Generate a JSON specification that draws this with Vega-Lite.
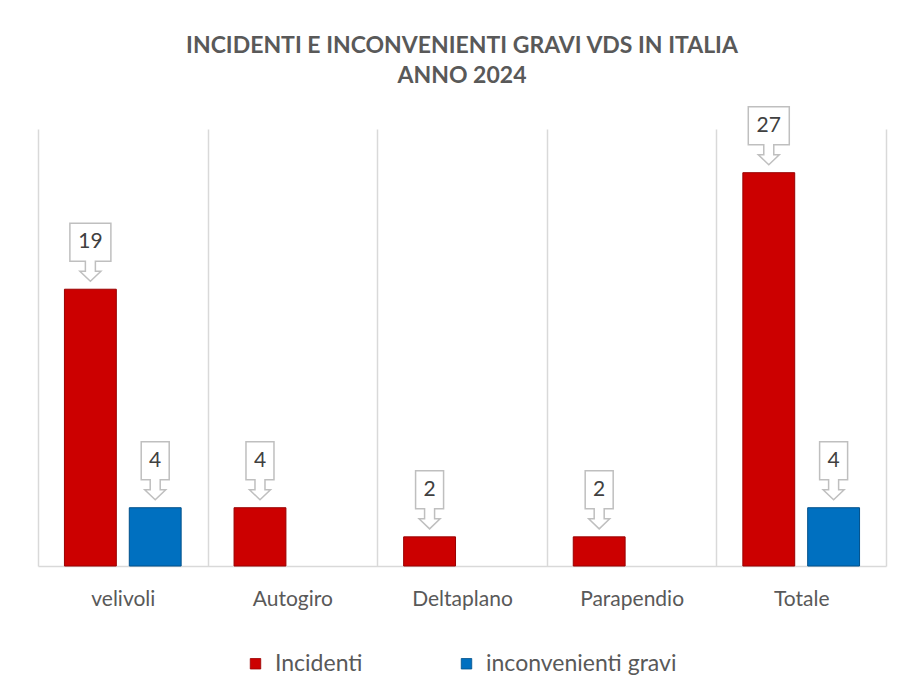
{
  "$schema": "https://vega.github.io/schema/vega-lite/v6.json",
  "width": 848,
  "height": 437,
  "padding": {"left": 38, "top": 34, "right": 18, "bottom": 10},
  "background": "white",
  "title": {
    "text": ["INCIDENTI E INCONVENIENTI GRAVI VDS IN ITALIA", "ANNO 2024"],
    "font": "Lato",
    "fontSize": 23,
    "fontWeight": "bold",
    "color": "#595959",
    "lineHeight": 30,
    "offset": 16,
    "anchor": "middle"
  },
  "config": {"view": {"stroke": null}},
  "data": {
    "values": [
      {"categoria": "velivoli", "serie": "Incidenti", "valore": 19},
      {"categoria": "velivoli", "serie": "inconvenienti gravi", "valore": 4},
      {"categoria": "Autogiro", "serie": "Incidenti", "valore": 4},
      {"categoria": "Deltaplano", "serie": "Incidenti", "valore": 2},
      {"categoria": "Parapendio", "serie": "Incidenti", "valore": 2},
      {"categoria": "Totale", "serie": "Incidenti", "valore": 27},
      {"categoria": "Totale", "serie": "inconvenienti gravi", "valore": 4}
    ]
  },
  "encoding": {
    "x": {
      "field": "categoria",
      "type": "nominal",
      "sort": ["velivoli", "Autogiro", "Deltaplano", "Parapendio", "Totale"],
      "scale": {"paddingInner": 0, "paddingOuter": 0},
      "axis": {
        "title": null,
        "labelAngle": 0,
        "labelFont": "Lato",
        "labelFontSize": 21,
        "labelColor": "#595959",
        "labelPadding": 22,
        "ticks": false,
        "domainColor": "#d9d9d9",
        "domainWidth": 1.5,
        "grid": true,
        "gridColor": "#d9d9d9",
        "gridWidth": 1.5,
        "tickBand": "extent"
      }
    },
    "xOffset": {
      "field": "serie",
      "type": "nominal",
      "sort": ["Incidenti", "inconvenienti gravi"],
      "scale": {"domain": ["Incidenti", "inconvenienti gravi"], "paddingInner": 0.2, "paddingOuter": 0.408}
    },
    "y": {
      "field": "valore",
      "type": "quantitative",
      "scale": {"domain": [0, 30]},
      "axis": null
    }
  },
  "layer": [
    {
      "mark": {"type": "bar", "strokeWidth": 1},
      "encoding": {
        "color": {
          "field": "serie",
          "type": "nominal",
          "scale": {"domain": ["Incidenti", "inconvenienti gravi"], "range": ["#cc0000", "#0070c0"]},
          "legend": {
            "orient": "none",
            "legendX": 206,
            "legendY": 523,
            "direction": "horizontal",
            "title": null,
            "symbolType": "square",
            "symbolSize": 110,
            "symbolStrokeWidth": 0.8,
            "labelFont": "Lato",
            "labelFontSize": 23,
            "labelColor": "#595959",
            "labelOffset": 8,
            "labelLimit": 400,
            "columnPadding": 92
          }
        },
        "stroke": {
          "field": "serie",
          "type": "nominal",
          "scale": {"domain": ["Incidenti", "inconvenienti gravi"], "range": ["#990000", "#00508a"]},
          "legend": null
        }
      }
    },
    {
      "transform": [{"filter": "datum.valore >= 10"}],
      "mark": {
        "type": "point",
        "shape": "M -20.5 -66 L 20.5 -66 L 20.5 -28 L 5 -28 L 5 -18 L 10.5 -18 L 0 -8 L -10.5 -18 L -5 -18 L -5 -28 L -20.5 -28 Z",
        "size": 4,
        "fill": "white",
        "stroke": "#bfbfbf",
        "strokeWidth": 1.5,
        "opacity": 1,
        "fillOpacity": 1,
        "strokeOpacity": 1
      }
    },
    {
      "transform": [{"filter": "datum.valore < 10"}],
      "mark": {
        "type": "point",
        "shape": "M -14 -66 L 14 -66 L 14 -28 L 5 -28 L 5 -18 L 10.5 -18 L 0 -8 L -10.5 -18 L -5 -18 L -5 -28 L -14 -28 Z",
        "size": 4,
        "fill": "white",
        "stroke": "#bfbfbf",
        "strokeWidth": 1.5,
        "opacity": 1,
        "fillOpacity": 1,
        "strokeOpacity": 1
      }
    },
    {
      "mark": {
        "type": "text",
        "dy": -47,
        "baseline": "middle",
        "align": "center",
        "font": "Lato",
        "fontSize": 21,
        "color": "#404040"
      },
      "encoding": {"text": {"field": "valore", "type": "quantitative"}}
    }
  ]
}
